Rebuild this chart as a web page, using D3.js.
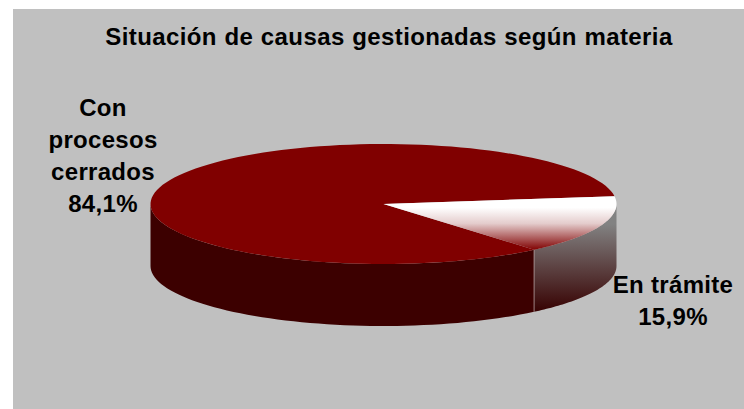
<!DOCTYPE html>
<html>
<head>
<meta charset="utf-8">
<script src="https://cdn.jsdelivr.net/npm/d3@7"></script>
<style>
  html, body { margin: 0; padding: 0; background: #fff; }
  svg { display: block; }
  text { font-family: "Liberation Sans", Arial, sans-serif; font-weight: bold; fill: #000; text-anchor: middle; }
</style>
</head>
<body>
<div id="chart"></div>
<script>
var title = "Situación de causas gestionadas según materia";
var categories = ["En trámite", "Con procesos cerrados"];
var values = [15.9, 84.1];
var percentLabels = ["15,9%", "84,1%"];

var width = 744, height = 409;
var panel = {left: 13, top: 9};
var cx = 383.5, cy = 204, rx = 233, ry = 60, depth = 62;
var firstAngle = 82.5 * Math.PI / 180;

var svg = d3.select("#chart").append("svg")
  .attr("width", width)
  .attr("height", height);

var defs = svg.append("defs");

function addGradient(id, y1, y2, stops) {
  var g = defs.append("linearGradient")
    .attr("id", id)
    .attr("gradientUnits", "userSpaceOnUse")
    .attr("x1", 0).attr("x2", 0)
    .attr("y1", y1).attr("y2", y2);
  stops.forEach(function (s) {
    g.append("stop").attr("offset", s[0]).attr("stop-color", s[1]);
  });
}

addGradient("topWedge", cy - 7, cy + 46, [[0, "#ffffff"], [0.2, "#ffffff"], [0.5, "#e4cccc"], [1, "#800000"]]);
addGradient("sideWedge", cy + 20, cy + 106, [[0, "#828282"], [1, "#380404"]]);

svg.append("rect")
  .attr("x", panel.left)
  .attr("y", panel.top)
  .attr("width", width - panel.left)
  .attr("height", height - panel.top)
  .attr("fill", "#c0c0c0");

svg.append("text")
  .attr("x", 389)
  .attr("y", 45)
  .style("font-size", "24px")
  .style("letter-spacing", "0.4px")
  .style("word-spacing", "0.5px")
  .text(title);

var pie = d3.pie().sort(null)
  .startAngle(firstAngle)
  .endAngle(firstAngle + 2 * Math.PI);
var arcs = pie(values);

var topFill = ["url(#topWedge)", "#800000"];
var sideFill = ["url(#sideWedge)", "#3c0000"];

// x/y on the tilted ellipse, angle clockwise from top like d3.arc
function px(a) { return cx + rx * Math.sin(a); }
function py(a, drop) { return cy - ry * Math.cos(a) + drop; }

// outer wall, only the part facing the viewer (90deg to 270deg)
function wallPoints(d) {
  var points = [];
  var turn = 2 * Math.PI;
  [0, 1].forEach(function (k) {
    var a0 = Math.max(d.startAngle, Math.PI / 2 + k * turn);
    var a1 = Math.min(d.endAngle, 1.5 * Math.PI + k * turn);
    if (a1 <= a0) return;
    var angles = d3.range(0, 61).map(function (i) { return a0 + (a1 - a0) * i / 60; });
    var front = angles.map(function (a) { return [px(a), py(a, 0)]; });
    var back = angles.slice().reverse().map(function (a) { return [px(a), py(a, depth)]; });
    points.push(front.concat(back));
  });
  return points;
}

var line = d3.line().curve(d3.curveLinearClosed);

var walls = svg.append("g");
arcs.slice().reverse().forEach(function (d) {
  var i = d.index;
  wallPoints(d).forEach(function (pts) {
    walls.append("path")
      .attr("d", line(pts))
      .attr("fill", sideFill[i]);
  });
});

// light seam between the two side walls
var seam = arcs[0].endAngle;
walls.append("line")
  .attr("x1", px(seam)).attr("x2", px(seam))
  .attr("y1", py(seam, 0)).attr("y2", py(seam, depth))
  .attr("stroke", "#b09a9a")
  .attr("stroke-width", 0.8);

// top face, gradient has to be in page coords so sample the wedge by hand
arcs.slice().reverse().forEach(function (d) {
  var i = d.index;
  var angles = d3.range(0, 121).map(function (k) {
    return d.startAngle + (d.endAngle - d.startAngle) * k / 120;
  });
  var pts = [[cx, cy]].concat(angles.map(function (a) { return [px(a), py(a, 0)]; }));
  svg.append("path")
    .attr("d", line(pts))
    .attr("fill", topFill[i]);
});

var labelLines = [
  [categories[0], percentLabels[0]],
  ["Con", "procesos", "cerrados", percentLabels[1]]
];
var labelPos = [
  {x: 673, y: 293},
  {x: 103, y: 116}
];

labelLines.forEach(function (lines, i) {
  lines.forEach(function (t, j) {
    svg.append("text")
      .attr("x", labelPos[i].x)
      .attr("y", labelPos[i].y + j * 32)
      .style("font-size", "24px")
      .style("letter-spacing", "0.3px")
      .text(t);
  });
});
</script>
</body>
</html>
